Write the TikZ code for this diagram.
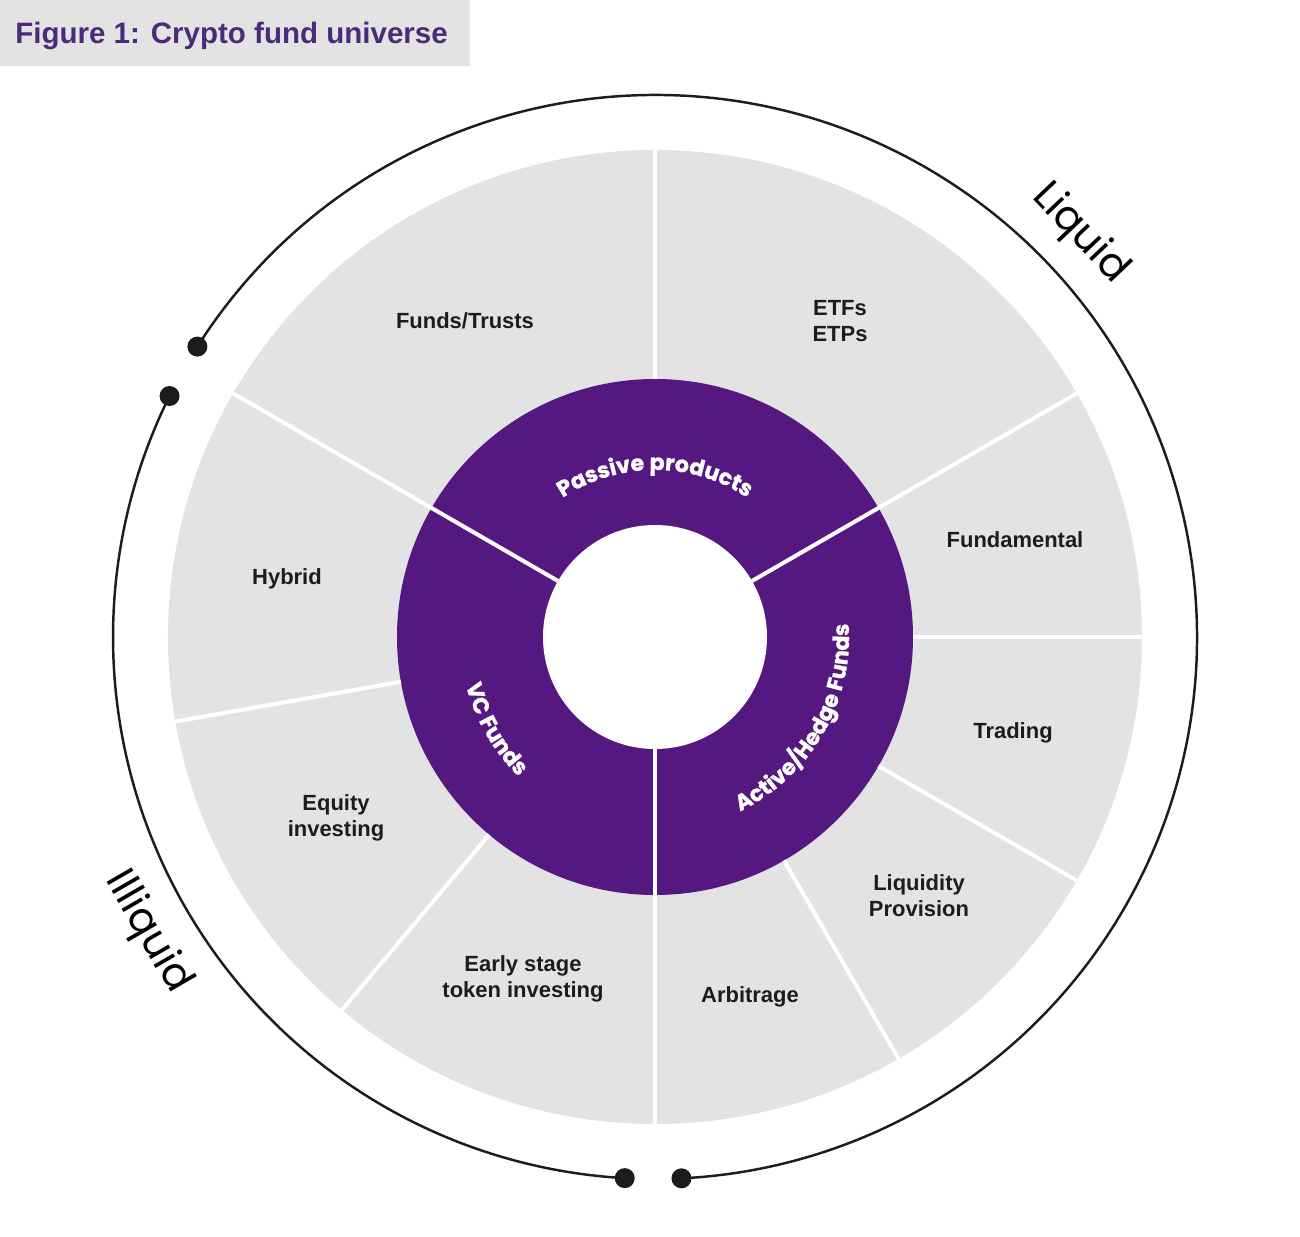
\documentclass[tikz,border=0pt]{standalone}
\usepackage{fontspec}
\setmainfont{Liberation Sans}
\newfontfamily\ringfont{Poppins}
\newfontfamily\ringbold{Poppins}[UprightFont={* Bold}, FakeBold=1.2]
\usepackage{tikz}
\usetikzlibrary{decorations.text}
\definecolor{fundpurple}{RGB}{85,24,128}
\definecolor{titlepurple}{RGB}{74,43,122}
\definecolor{segrey}{RGB}{227,227,227}
\definecolor{inkblack}{RGB}{28,28,28}

\begin{document}
\begin{tikzpicture}[
  x=0.02cm, y=0.02cm,
  seglabel/.style={font=\bfseries\fontsize{12.5}{14.7}\selectfont, align=center, text=inkblack},
  sidelabel/.style={font=\ringfont\fontsize{23.5}{28}\selectfont, text=black},
  divider/.style={white, line width=2.3pt},
  rim/.style={inkblack, line width=1.4pt},
  tip/.style={circle, fill=inkblack, inner sep=0pt, minimum size=0.4cm},
  ringtext/.style={decorate, decoration={text along path, text align=center, text color=white,
    text={|\ringbold\fontsize{12.6}{15}\selectfont|#1}}}
]
\useasboundingbox (-655,-599) rectangle (645,637);

% title
\fill[segrey] (-655,637) rectangle (-185,571);
\node[anchor=base west, font=\bfseries\fontsize{16.8}{20}\selectfont, text=titlepurple, inner sep=0pt] (title) at (-640,593) {Figure 1: Crypto fund universe};

% wheel
\fill[segrey] (0,0) circle[radius=487];
\fill[fundpurple] (0,0) circle[radius=258];
\fill[white] (0,0) circle[radius=112];
\foreach \a in {30,150,270}
  \draw[divider] (\a:112) -- (\a:487);
\foreach \a in {0,90,190,230,-30,-60}
  \draw[divider] (\a:258) -- (\a:487);

% inner ring texts
\path[ringtext=Passive products] (150:167) arc[start angle=150, end angle=30, radius=167];
\path[ringtext=Active/Hedge Funds] (-90:194) arc[start angle=-90, end angle=30, radius=194];
\path[ringtext=VC Funds] (150:195) arc[start angle=150, end angle=270, radius=195];

% outer segments
\node[seglabel] (funds) at (-190,316) {Funds/Trusts};
\node[seglabel] (etfs) at (185,316) {ETFs\\ETPs};
\node[seglabel] (fundamental) at (360,97) {Fundamental};
\node[seglabel] (trading) at (358,-96) {Trading};
\node[seglabel] (liquidity) at (264,-259) {Liquidity\\Provision};
\node[seglabel] (arbitrage) at (95,-360) {Arbitrage};
\node[seglabel] (earlystage) at (-132,-342) {Early stage\\token investing};
\node[seglabel] (equity) at (-319,-181) {Equity\\investing};
\node[seglabel] (hybrid) at (-368,58) {Hybrid};

% liquid / illiquid rims
\draw[rim] (147.6:542) arc[start angle=147.6, end angle=-87.2, radius=542];
\draw[rim] (153.6:542) arc[start angle=153.6, end angle=266.8, radius=542];
\node[tip] (liqtop) at (147.6:542) {};
\node[tip] (liqbot) at (-87.2:542) {};
\node[tip] (illtop) at (153.6:542) {};
\node[tip] (illbot) at (266.8:542) {};
\node[sidelabel, rotate=-46.5] (liquid) at (43.5:586) {Liquid};
\node[sidelabel, rotate=-60] (illiquid) at (210.2:587) {Illiquid};
\end{tikzpicture}
\end{document}
